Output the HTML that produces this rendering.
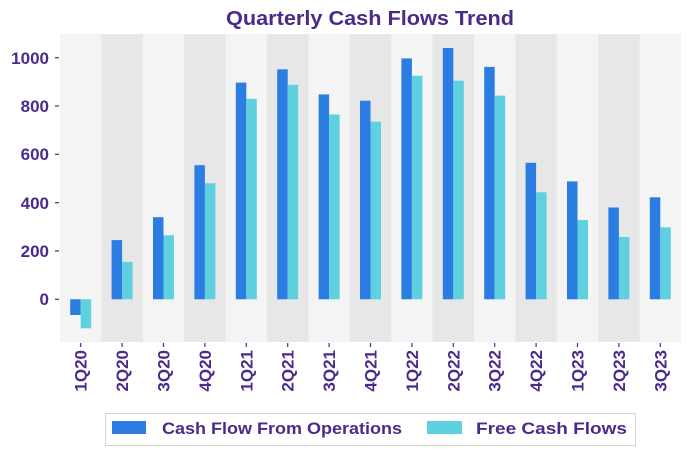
<!DOCTYPE html>
<html><head><meta charset="utf-8"><style>
html,body{margin:0;padding:0;background:#fff;}
svg{display:block;font-family:"Liberation Sans",sans-serif;font-weight:bold;}
</style></head><body>
<svg width="689" height="455" viewBox="0 0 689 455" xmlns="http://www.w3.org/2000/svg">
<text x="226" y="25" font-size="20" fill="#4b2a8c" textLength="288" lengthAdjust="spacingAndGlyphs">Quarterly Cash Flows Trend</text>
<g>
<rect x="60" y="34" width="621" height="308" fill="#f4f4f4"/>
<rect x="101.4" y="34" width="41.4" height="308" fill="#e7e7e7"/>
<rect x="184.2" y="34" width="41.4" height="308" fill="#e7e7e7"/>
<rect x="267" y="34" width="41.4" height="308" fill="#e7e7e7"/>
<rect x="349.8" y="34" width="41.4" height="308" fill="#e7e7e7"/>
<rect x="432.6" y="34" width="41.4" height="308" fill="#e7e7e7"/>
<rect x="515.4" y="34" width="41.4" height="308" fill="#e7e7e7"/>
<rect x="598.2" y="34" width="41.4" height="308" fill="#e7e7e7"/>
</g>
<g fill="#2b7de1">
<rect x="70.2" y="299.3" width="10.5" height="15.7"/>
<rect x="111.6" y="240.1" width="10.5" height="59.2"/>
<rect x="153" y="217.2" width="10.5" height="82.1"/>
<rect x="194.4" y="165.2" width="10.5" height="134.1"/>
<rect x="235.8" y="82.6" width="10.5" height="216.7"/>
<rect x="277.2" y="69.3" width="10.5" height="230"/>
<rect x="318.6" y="94.4" width="10.5" height="204.9"/>
<rect x="360" y="100.7" width="10.5" height="198.6"/>
<rect x="401.4" y="58.4" width="10.5" height="240.9"/>
<rect x="442.8" y="48" width="10.5" height="251.3"/>
<rect x="484.2" y="66.9" width="10.5" height="232.4"/>
<rect x="525.6" y="162.8" width="10.5" height="136.5"/>
<rect x="567" y="181.4" width="10.5" height="117.9"/>
<rect x="608.4" y="207.5" width="10.5" height="91.8"/>
<rect x="649.8" y="197.3" width="10.5" height="102"/>
</g>
<g fill="#5fd0e0">
<rect x="80.7" y="299.3" width="10.5" height="29"/>
<rect x="122.1" y="261.9" width="10.5" height="37.4"/>
<rect x="163.5" y="235.3" width="10.5" height="64"/>
<rect x="204.9" y="183.3" width="10.5" height="116"/>
<rect x="246.3" y="98.8" width="10.5" height="200.5"/>
<rect x="287.7" y="84.8" width="10.5" height="214.5"/>
<rect x="329.1" y="114.5" width="10.5" height="184.8"/>
<rect x="370.5" y="121.7" width="10.5" height="177.6"/>
<rect x="411.9" y="75.8" width="10.5" height="223.5"/>
<rect x="453.3" y="80.7" width="10.5" height="218.6"/>
<rect x="494.7" y="95.6" width="10.5" height="203.7"/>
<rect x="536.1" y="192.3" width="10.5" height="107"/>
<rect x="577.5" y="220.1" width="10.5" height="79.2"/>
<rect x="618.9" y="237" width="10.5" height="62.3"/>
<rect x="660.3" y="227.3" width="10.5" height="72"/>
</g>
<g stroke="#4b2a8c" stroke-width="1.2">
<line x1="55" x2="59" y1="57.7" y2="57.7"/><line x1="55" x2="59" y1="106" y2="106"/><line x1="55" x2="59" y1="154.3" y2="154.3"/><line x1="55" x2="59" y1="202.7" y2="202.7"/><line x1="55" x2="59" y1="251" y2="251"/><line x1="55" x2="59" y1="299.3" y2="299.3"/>
</g>
<g font-size="17" fill="#4b2a8c" text-anchor="end">
<text x="49" y="64">1000</text><text x="49" y="112">800</text><text x="49" y="160">600</text><text x="49" y="209">400</text><text x="49" y="257">200</text><text x="49" y="305">0</text>
</g>
<g stroke="#4b2a8c" stroke-width="1.2">
<line x1="80.7" x2="80.7" y1="343" y2="347"/><line x1="122.1" x2="122.1" y1="343" y2="347"/><line x1="163.5" x2="163.5" y1="343" y2="347"/><line x1="204.9" x2="204.9" y1="343" y2="347"/><line x1="246.3" x2="246.3" y1="343" y2="347"/><line x1="287.7" x2="287.7" y1="343" y2="347"/><line x1="329.1" x2="329.1" y1="343" y2="347"/><line x1="370.5" x2="370.5" y1="343" y2="347"/><line x1="411.9" x2="411.9" y1="343" y2="347"/><line x1="453.3" x2="453.3" y1="343" y2="347"/><line x1="494.7" x2="494.7" y1="343" y2="347"/><line x1="536.1" x2="536.1" y1="343" y2="347"/><line x1="577.5" x2="577.5" y1="343" y2="347"/><line x1="618.9" x2="618.9" y1="343" y2="347"/><line x1="660.3" x2="660.3" y1="343" y2="347"/>
</g>
<g font-size="17" fill="#4b2a8c" text-anchor="end">
<text transform="translate(86.7,350) rotate(-90)">1Q20</text>
<text transform="translate(128.1,350) rotate(-90)">2Q20</text>
<text transform="translate(169.5,350) rotate(-90)">3Q20</text>
<text transform="translate(210.9,350) rotate(-90)">4Q20</text>
<text transform="translate(252.3,350) rotate(-90)">1Q21</text>
<text transform="translate(293.7,350) rotate(-90)">2Q21</text>
<text transform="translate(335.1,350) rotate(-90)">3Q21</text>
<text transform="translate(376.5,350) rotate(-90)">4Q21</text>
<text transform="translate(417.9,350) rotate(-90)">1Q22</text>
<text transform="translate(459.3,350) rotate(-90)">2Q22</text>
<text transform="translate(500.7,350) rotate(-90)">3Q22</text>
<text transform="translate(542.1,350) rotate(-90)">4Q22</text>
<text transform="translate(583.5,350) rotate(-90)">1Q23</text>
<text transform="translate(624.9,350) rotate(-90)">2Q23</text>
<text transform="translate(666.3,350) rotate(-90)">3Q23</text>
</g>
<rect x="105.5" y="413.5" width="530" height="32" fill="#fff" stroke="#d4d4d4" stroke-width="1"/>
<rect x="112" y="421" width="34" height="13" fill="#2b7de1"/>
<rect x="427" y="421" width="35" height="13" fill="#5fd0e0"/>
<g font-size="17" fill="#4b2a8c">
<text x="162" y="434" textLength="240" lengthAdjust="spacingAndGlyphs">Cash Flow From Operations</text>
<text x="476" y="434" textLength="151" lengthAdjust="spacingAndGlyphs">Free Cash Flows</text>
</g>
</svg>
</body></html>
